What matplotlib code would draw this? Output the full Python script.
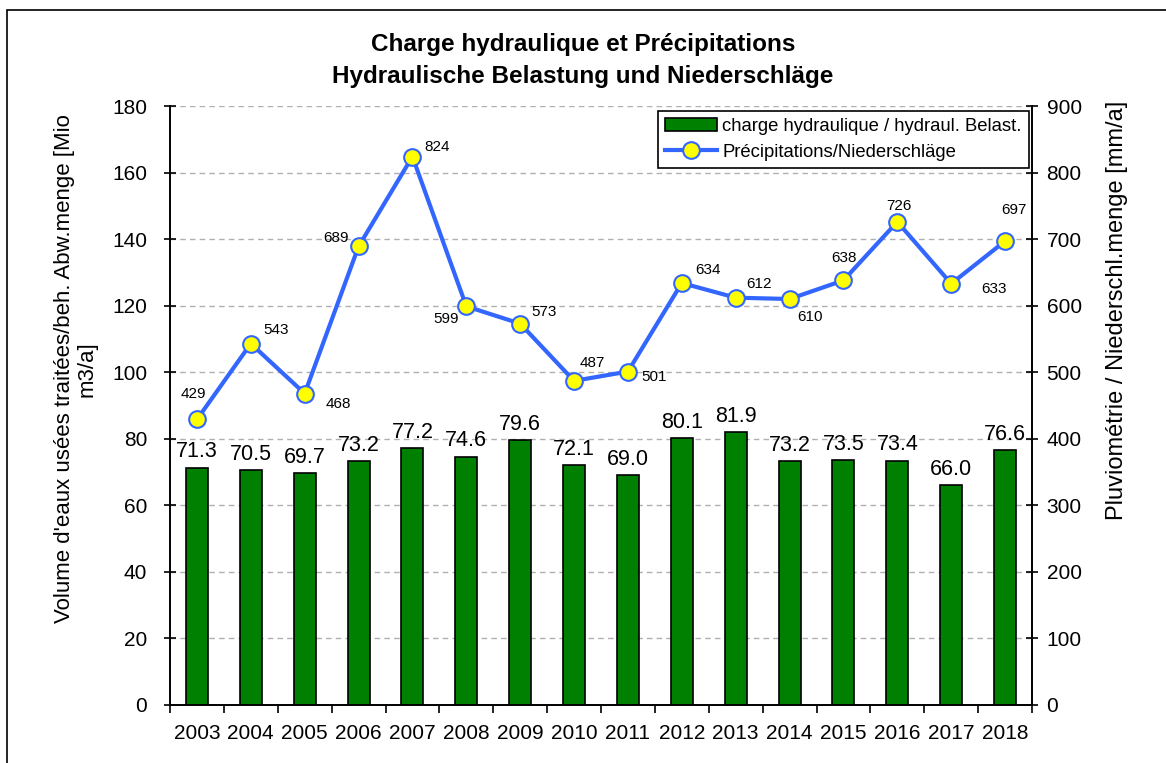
# -*- coding: utf-8 -*-
import numpy as np
import matplotlib
matplotlib.use('Agg')
import matplotlib.pyplot as plt
from matplotlib.patches import Rectangle

plt.rcParams['font.family'] = ['Liberation Sans', 'DejaVu Sans']

years = ['2003', '2004', '2005', '2006', '2007', '2008', '2009', '2010',
         '2011', '2012', '2013', '2014', '2015', '2016', '2017', '2018']
charge = [71.3, 70.5, 69.7, 73.2, 77.2, 74.6, 79.6, 72.1,
          69.0, 80.1, 81.9, 73.2, 73.5, 73.4, 66.0, 76.6]
precip = [429, 543, 468, 689, 824, 599, 573, 487,
          501, 634, 612, 610, 638, 726, 633, 697]

# label offsets (pixels) for the rainfall labels
lbl_off = [(-4, 25), (25, 14), (34, -10), (-23, 8), (25, 10), (-20, -13),
           (24, 12), (18, 18), (26, -5), (26, 13), (23, 14), (20, -18),
           (1, 22), (2, 16), (43, -5), (9, 31)]

fig = plt.figure(figsize=(11.66, 7.63), dpi=100)
fig.patches.append(Rectangle((7/1166, -0.1), 1.2, 1 - 10/763 + 0.1,
                             transform=fig.transFigure, fill=False,
                             edgecolor='black', linewidth=1.2))

ax = fig.add_axes([170/1166, 1 - 705/763, (1032-170)/1166, (705-106)/763])
x = np.arange(len(years))
ax.bar(x, charge, width=0.41, color='#008000', edgecolor='black',
       linewidth=1.2, label='charge hydraulique / hydraul. Belast.', zorder=3)
for xi, v in zip(x, charge):
    ax.annotate('%.1f' % v, (xi, v), xytext=(0, 16), textcoords='offset pixels',
                ha='center', va='center', fontsize=15.5, zorder=5)

ax.set_xlim(-0.5, len(years) - 0.5)
ax.set_ylim(0, 180)
ax.set_yticks(np.arange(0, 181, 20))
ax.set_xticks(x)
ax.set_xticklabels(years)
ax.set_xticks(np.arange(-0.5, len(years), 1), minor=True)
ax.tick_params(axis='x', which='major', length=0, labelsize=15, pad=14)
ax.tick_params(axis='x', which='minor', length=6, width=1.2, direction='out')
ax.tick_params(axis='y', labelsize=15, length=9, width=1.2, direction='inout', pad=12)
ax.yaxis.grid(True, linestyle=(0, (4, 3)), color='#b0b0b0', linewidth=1)
ax.set_axisbelow(True)
for s in ax.spines.values():
    s.set_linewidth(1.2)
ax.spines['top'].set_visible(False)
ax.set_ylabel("Volume d'eaux usées traitées/beh. Abw.menge [Mio\nm3/a]",
              fontsize=16, linespacing=1.1)
ax.yaxis.set_label_coords(-(170-98)/862, (705-369)/599)

ax2 = ax.twinx()
ax2.plot(x, precip, color='#3366ff', linewidth=3, marker='o', markersize=12,
         markerfacecolor='#ffff00', markeredgecolor='#3366ff', markeredgewidth=1.5,
         label='Précipitations/Niederschläge', zorder=4)
for xi, v, (dx, dy) in zip(x, precip, lbl_off):
    ax2.annotate(str(v), (xi, v), xytext=(dx, dy), textcoords='offset pixels',
                 ha='center', va='center', fontsize=11)
ax2.set_ylim(0, 900)
ax2.set_yticks(np.arange(0, 901, 100))
ax2.tick_params(axis='y', labelsize=15, length=9, width=1.2, direction='inout', pad=6)
for s in ax2.spines.values():
    s.set_linewidth(1.2)
ax2.spines['top'].set_visible(False)
ax2.set_ylabel('Pluviométrie / Niederschl.menge [mm/a]', fontsize=17)
ax2.yaxis.set_label_coords((1106-170)/862, (705-310)/599)

h1, l1 = ax.get_legend_handles_labels()
h2, l2 = ax2.get_legend_handles_labels()
leg = ax2.legend(h1 + h2, l1 + l2, loc='upper right',
                 bbox_to_anchor=((1029-170)/862, (705-111)/599),
                 fontsize=13.3, fancybox=False, edgecolor='black',
                 framealpha=1, borderaxespad=0, handlelength=2.8,
                 borderpad=0.4, labelspacing=0.45, handletextpad=0.3)
leg.get_frame().set_linewidth(1.2)

fig.text(0.5, 1 - 61/763, 'Charge hydraulique et Précipitations\nHydraulische Belastung und Niederschläge',
         ha='center', va='center', fontsize=17.5, fontweight='bold', linespacing=1.5)

fig.savefig('out.png', dpi=100)
